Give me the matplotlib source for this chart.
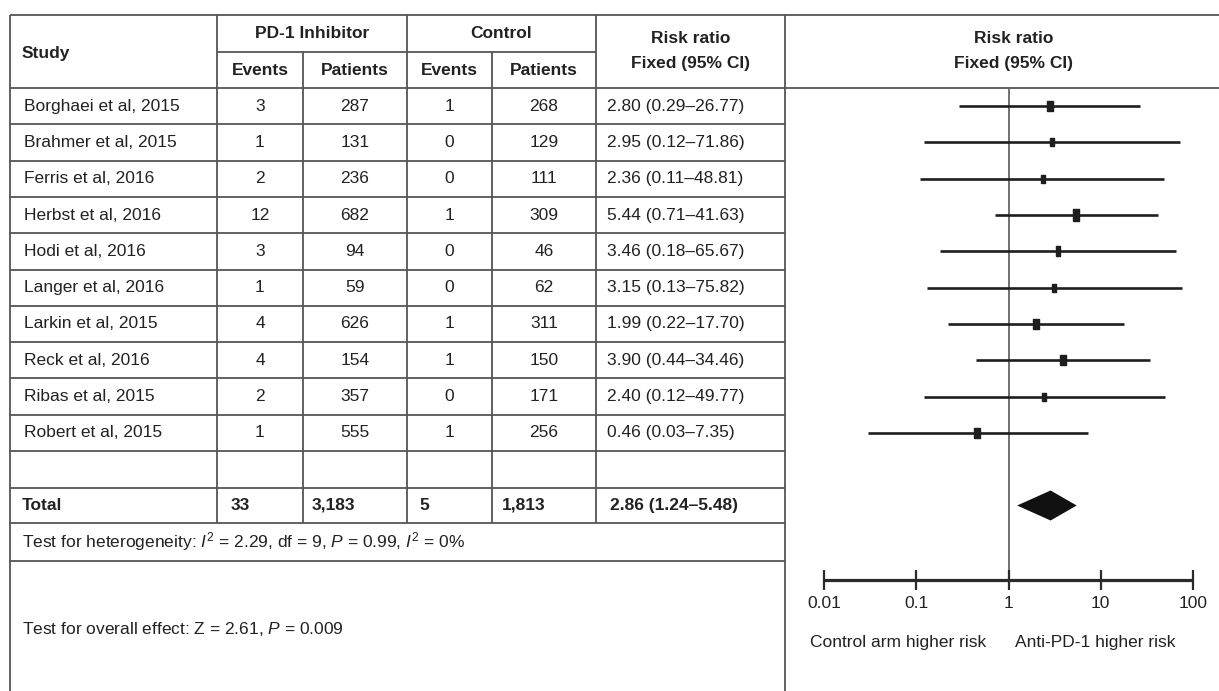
import numpy as np
import matplotlib.pyplot as plt

plt.rcParams['font.family'] = ['Liberation Sans', 'DejaVu Sans']
plt.rcParams['mathtext.fontset'] = 'custom'
plt.rcParams['mathtext.rm'] = 'Liberation Sans'
plt.rcParams['mathtext.it'] = 'Liberation Sans:italic'

# study level data
studies = ['Borghaei et al, 2015', 'Brahmer et al, 2015', 'Ferris et al, 2016',
           'Herbst et al, 2016', 'Hodi et al, 2016', 'Langer et al, 2016',
           'Larkin et al, 2015', 'Reck et al, 2016', 'Ribas et al, 2015',
           'Robert et al, 2015']
pd1_events = [3, 1, 2, 12, 3, 1, 4, 4, 2, 1]
pd1_patients = [287, 131, 236, 682, 94, 59, 626, 154, 357, 555]
ctrl_events = [1, 0, 0, 1, 0, 0, 1, 1, 0, 1]
ctrl_patients = [268, 129, 111, 309, 46, 62, 311, 150, 171, 256]
rr = [2.80, 2.95, 2.36, 5.44, 3.46, 3.15, 1.99, 3.90, 2.40, 0.46]
rr_lo = [0.29, 0.12, 0.11, 0.71, 0.18, 0.13, 0.22, 0.44, 0.12, 0.03]
rr_hi = [26.77, 71.86, 48.81, 41.63, 65.67, 75.82, 17.70, 34.46, 49.77, 7.35]

# pooled result
tot_pd1_events, tot_pd1_patients = 33, 3183
tot_ctrl_events, tot_ctrl_patients = 5, 1813
tot_rr, tot_lo, tot_hi = 2.86, 1.24, 5.48

axis_ticks = [0.01, 0.1, 1, 10, 100]
axis_labels = ['0.01', '0.1', '1', '10', '100']

# marker heights (points), bigger box = bigger weight
box_h = [6.5, 5, 4.5, 7, 5.5, 5, 6.5, 6.5, 5, 6.5]

W, H = 1219, 691
fig = plt.figure(figsize=(W / 100, H / 100), dpi=100)
ax = fig.add_axes([0, 0, 1, 1])
ax.set_xlim(0, W)
ax.set_ylim(H, 0)
ax.axis('off')

lc = '#555555'
tc = '#222222'
lw = 1.3
fs = 12.5

# table grid
x0, xs, xe1, xp1, xe2, xp2, xr, xf = 9.5, 217, 303, 407, 492, 596, 785, W
y_top, y_sub, y_head = 15, 52, 88
pitch = 36.3
row_y = [y_head + pitch * (i + 1) for i in range(len(studies))]
y_empty, y_total, y_het = 488, 523, 561

ax.hlines([y_top, y_head], x0, xf, color=lc, lw=lw)
ax.hlines(y_sub, xs, xp2, color=lc, lw=lw)
ax.hlines(row_y + [y_empty, y_total, y_het], x0, xr, color=lc, lw=lw)
ax.vlines([x0, xr], y_top, H, color=lc, lw=lw)
ax.vlines([xs, xp1, xp2], y_top, y_total, color=lc, lw=lw)
ax.vlines([xe1, xe2], y_sub, y_total, color=lc, lw=lw)

# headers
ax.text(22, (y_top + y_head) / 2 + 2, 'Study', fontsize=fs, fontweight='bold',
        color=tc, va='center')
ax.text((xs + xp1) / 2, (y_top + y_sub) / 2, 'PD-1 Inhibitor', fontsize=fs,
        fontweight='bold', color=tc, ha='center', va='center')
ax.text((xp1 + xp2) / 2, (y_top + y_sub) / 2, 'Control', fontsize=fs,
        fontweight='bold', color=tc, ha='center', va='center')
for a, b, s in [(xs, xe1, 'Events'), (xe1, xp1, 'Patients'),
                (xp1, xe2, 'Events'), (xe2, xp2, 'Patients')]:
    ax.text((a + b) / 2, (y_sub + y_head) / 2, s, fontsize=fs,
            fontweight='bold', color=tc, ha='center', va='center')
for cx in [(xp2 + xr) / 2, 1014]:
    ax.text(cx, 38, 'Risk ratio', fontsize=fs, fontweight='bold', color=tc,
            ha='center', va='center')
    ax.text(cx, 63, 'Fixed (95% CI)', fontsize=fs, fontweight='bold',
            color=tc, ha='center', va='center')

# study rows
centers = [y_head + pitch * (i + 0.5) for i in range(len(studies))]
for i, yc in enumerate(centers):
    ax.text(24, yc, studies[i], fontsize=fs, color=tc, va='center')
    for (a, b), v in zip([(xs, xe1), (xe1, xp1), (xp1, xe2), (xe2, xp2)],
                         [pd1_events[i], pd1_patients[i], ctrl_events[i],
                          ctrl_patients[i]]):
        ax.text((a + b) / 2, yc, str(v), fontsize=fs, color=tc,
                ha='center', va='center')
    ax.text(607, yc, f'{rr[i]:.2f} ({rr_lo[i]:.2f}\u2013{rr_hi[i]:.2f})',
            fontsize=fs, color=tc, va='center')

# total row
yt = (y_empty + y_total) / 2
ax.text(22, yt, 'Total', fontsize=fs, fontweight='bold', color=tc, va='center')
for xx, v in zip([xs + 14, xe1 + 9, xp1 + 12, xe2 + 10],
                 [tot_pd1_events, tot_pd1_patients, tot_ctrl_events,
                  tot_ctrl_patients]):
    ax.text(xx, yt, f'{v:,}', fontsize=fs, fontweight='bold', color=tc,
            va='center')
ax.text(610, yt, f'{tot_rr:.2f} ({tot_lo:.2f}\u2013{tot_hi:.2f})', fontsize=fs,
        fontweight='bold', color=tc, va='center')

ax.text(22, (y_total + y_het) / 2,
        r'Test for heterogeneity: $I^2$ = 2.29, df = 9, $P$ = 0.99, $I^2$ = 0%',
        fontsize=fs, color=tc, va='center')
ax.text(22, 629, r'Test for overall effect: Z = 2.61, $P$ = 0.009',
        fontsize=fs, color=tc, va='center')

# forest plot on a log axis
fx = fig.add_axes([824 / W, 0, (1193 - 824) / W, 1])
fx.set_xscale('log')
fx.set_xlim(0.01, 100)
fx.set_ylim(H, 0)
fx.axis('off')

fc = '#1e1e1e'
y_axis = 580
fx.vlines(1, y_head, y_axis, color='#666666', lw=1.3, clip_on=False)

box = [(-0.5, -1), (0.5, -1), (0.5, 1), (-0.5, 1), (-0.5, -1)]
for i, yc in enumerate(centers):
    fx.plot([rr_lo[i], rr_hi[i]], [yc, yc], color=fc, lw=1.9, clip_on=False,
            solid_capstyle='butt')
    fx.plot(rr[i], yc, marker=box, ms=box_h[i] * 1.2, color=fc, mec=fc,
            clip_on=False)

# pooled diamond
fx.fill([tot_lo, tot_rr, tot_hi, tot_rr], [yt, yt - 15, yt, yt + 15],
        color='#111111', lw=0)

# axis
fx.plot([axis_ticks[0], axis_ticks[-1]], [y_axis, y_axis], color='#2a2a2a',
        lw=2.3, clip_on=False, solid_capstyle='butt')
fx.vlines(axis_ticks, y_axis - 10, y_axis + 10, color='#2a2a2a', lw=1.6,
          clip_on=False)
for t, s in zip(axis_ticks, axis_labels):
    fx.text(t, 603, s, fontsize=fs, color=tc, ha='center', va='center')

ax.text(810, 642, 'Control arm higher risk', fontsize=fs, color=tc,
        va='center')
ax.text(1015, 642, 'Anti-PD-1 higher risk', fontsize=fs, color=tc,
        va='center')

fig.savefig('out.png', dpi=100)
